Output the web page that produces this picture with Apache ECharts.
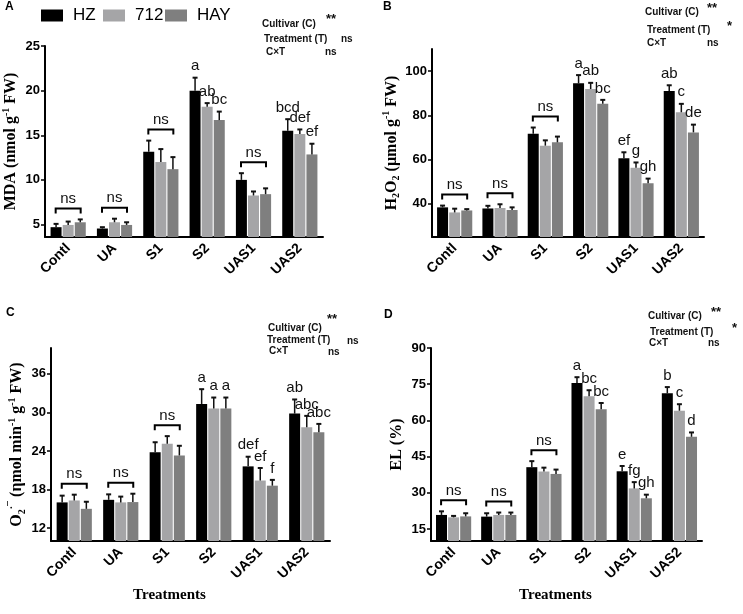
<!DOCTYPE html>
<html>
<head>
<meta charset="utf-8">
<script src="https://cdn.jsdelivr.net/npm/echarts@6/dist/echarts.min.js"></script>
<style>html,body{margin:0;padding:0;background:#fff}#c{width:743px;height:614px}</style>
</head>
<body>
<div id="c"></div>
<script>
// ---------- data ----------
const categories = ['Contl', 'UA', 'S1', 'S2', 'UAS1', 'UAS2'];
const cultivars = ['HZ', '712', 'HAY'];

// A: MDA
const mdaHZ  = [4.7, 4.55, 13.15, 20.0, 10.0, 15.5];
const mda712 = [4.95, 5.25, 12.0, 18.2, 8.25, 15.15];
const mdaHAY = [5.25, 4.95, 11.2, 16.7, 8.4, 12.85];
const mdaErrHZ  = [0.37, 0.15, 1.25, 1.45, 0.75, 1.3];
const mdaErr712 = [0.38, 0.4, 1.45, 0.4, 0.45, 0.5];
const mdaErrHAY = [0.32, 0.3, 1.35, 0.95, 0.65, 1.2];
const mdaLetHZ  = ['', '', '', 'a', '', 'bcd'];
const mdaLet712 = ['', '', '', 'ab', '', 'def'];
const mdaLetHAY = ['', '', '', 'bc', '', 'ef'];
const mdaNs = [1, 1, 1, 0, 1, 0];
const mdaTicks = [5, 10, 15, 20, 25];
const mdaStats = ['**', 'ns', 'ns'];

// B: H2O2
const h2o2HZ  = [38.4, 37.9, 71.7, 94.5, 60.6, 91.0];
const h2o2712 = [36.1, 38.1, 66.3, 91.9, 56.3, 81.4];
const h2o2HAY = [37.0, 37.2, 67.8, 85.2, 49.3, 72.3];
const h2o2ErrHZ  = [0.8, 1.2, 2.8, 3.7, 2.7, 2.6];
const h2o2Err712 = [1.7, 1.7, 2.4, 2.8, 2.4, 3.8];
const h2o2ErrHAY = [0.6, 1.2, 2.6, 1.8, 2.1, 3.5];
const h2o2LetHZ  = ['', '', '', 'a', 'ef', 'ab'];
const h2o2Let712 = ['', '', '', 'ab', 'g', 'c'];
const h2o2LetHAY = ['', '', '', 'bc', 'gh', 'de'];
const h2o2Ns = [1, 1, 1, 0, 0, 0];
const h2o2Ticks = [40, 60, 80, 100];
const h2o2Stats = ['**', '*', 'ns'];

// C: O2.-
const o2HZ  = [16.0, 16.4, 23.8, 31.3, 21.6, 29.8];
const o2712 = [16.3, 16.0, 25.1, 30.6, 19.4, 27.7];
const o2HAY = [15.0, 16.05, 23.3, 30.6, 18.6, 26.9];
const o2ErrHZ  = [1.05, 0.85, 1.55, 2.3, 1.5, 2.2];
const o2Err712 = [0.9, 0.9, 1.2, 1.7, 1.95, 1.75];
const o2ErrHAY = [1.1, 1.3, 1.5, 1.7, 0.9, 1.3];
const o2LetHZ  = ['', '', '', 'a', 'def', 'ab'];
const o2Let712 = ['', '', '', 'a', 'ef', 'abc'];
const o2LetHAY = ['', '', '', 'a', 'f', 'abc'];
const o2Ns = [1, 1, 1, 0, 0, 0];
const o2Ticks = [12, 18, 24, 30, 36];
const o2Stats = ['**', 'ns', 'ns'];

// D: EL
const elHZ  = [20.8, 20.1, 40.6, 75.5, 38.9, 71.2];
const el712 = [19.8, 20.8, 38.8, 70.0, 31.8, 64.0];
const elHAY = [20.2, 20.8, 37.8, 64.6, 27.7, 53.2];
const elErrHZ  = [1.5, 1.4, 2.5, 2.4, 2.2, 2.6];
const elErr712 = [0.6, 1.0, 1.6, 2.5, 2.6, 2.7];
const elErrHAY = [1.3, 1.0, 1.8, 2.6, 1.5, 1.8];
const elLetHZ  = ['', '', '', 'a', 'e', 'b'];
const elLet712 = ['', '', '', 'bc', 'fg', 'c'];
const elLetHAY = ['', '', '', 'bc', 'gh', 'd'];
const elNs = [1, 1, 1, 0, 0, 0];
const elTicks = [15, 30, 45, 60, 75, 90];
const elStats = ['**', '*', 'ns'];

// ---------- styling / layout ----------
const colors = ['#000000', '#a5a5a7', '#7f7f7f'];
const BAR_W = 11, BAR_STEP = 12.1;
const SANS = 'Arial, "Liberation Sans", Helvetica, sans-serif';
const SERIF = '"Times New Roman", "Liberation Serif", serif';

const panels = [
  { vals: [mdaHZ, mda712, mdaHAY], errs: [mdaErrHZ, mdaErr712, mdaErrHAY], lets: [mdaLetHZ, mdaLet712, mdaLetHAY], ns: mdaNs, ticks: mdaTicks,
    min: 3.6, max: 25, grid: { left: 44, top: 46, width: 279, height: 191 },
    name: '{b|MDA (nmol g}{sup|-1}{b| FW)}', xname: false },
  { vals: [h2o2HZ, h2o2712, h2o2HAY], errs: [h2o2ErrHZ, h2o2Err712, h2o2ErrHAY], lets: [h2o2LetHZ, h2o2Let712, h2o2LetHAY], ns: h2o2Ns, ticks: h2o2Ticks,
    min: 25, max: 110, grid: { left: 432, top: 49, width: 272, height: 188 },
    name: '{b|H}{sub|2}{b|O}{sub|2}{b| (µmol g}{sup|-1}{b| FW)}', xname: false },
  { vals: [o2HZ, o2712, o2HAY], errs: [o2ErrHZ, o2Err712, o2ErrHAY], lets: [o2LetHZ, o2Let712, o2LetHAY], ns: o2Ns, ticks: o2Ticks,
    min: 10, max: 40, grid: { left: 51, top: 348, width: 279, height: 193 },
    name: '{b|O}{sub|2}{sup|·¯}{b| (ηmol min}{sup|-1}{b| g}{sup|-1}{b| FW)}', xname: true, xshift: 42 },
  { vals: [elHZ, el712, elHAY], errs: [elErrHZ, elErr712, elErrHAY], lets: [elLetHZ, elLet712, elLetHAY], ns: elNs, ticks: elTicks,
    min: 10, max: 90, grid: { left: 431, top: 348, width: 271, height: 193 },
    name: '{b|EL (%)}', xname: true, xshift: 22 }
];

const grids = [], xAxes = [], yAxes = [], series = [];

panels.forEach((p, gi) => {
  grids.push(Object.assign({ containLabel: false }, p.grid));
  xAxes.push({
    type: 'category', gridIndex: gi, data: categories,
    axisLine: { lineStyle: { color: '#000', width: 2 } },
    axisTick: { alignWithLabel: true, length: 5, lineStyle: { color: '#000', width: 1.5 } },
    axisLabel: { rotate: 45, color: '#000', fontFamily: SANS, fontWeight: 'bold', fontSize: 14, margin: 9, interval: 0 },
    name: p.xname ? 'Treatments' : '', nameLocation: 'middle', nameGap: 47,
    nameTextStyle: { fontFamily: SERIF, fontWeight: 'bold', fontSize: 15, color: '#000', padding: [0, p.xshift || 0, 0, 0] }
  });
  yAxes.push({
    type: 'value', gridIndex: gi, min: p.min, max: p.max,
    axisLine: { show: true, lineStyle: { color: '#000', width: 2 } },
    axisTick: { show: true, length: 4, customValues: p.ticks, lineStyle: { color: '#000', width: 1.5 } },
    axisLabel: { customValues: p.ticks, color: '#000', fontFamily: SANS, fontWeight: 'bold', fontSize: 13, margin: 5 },
    splitLine: { show: false },
    name: p.name, nameLocation: 'middle', nameGap: 24,
    nameTextStyle: {
      color: '#000',
      rich: {
        b: { fontFamily: SERIF, fontWeight: 'bold', fontSize: 16, lineHeight: 20, color: '#000' },
        sup: { fontFamily: SERIF, fontWeight: 'bold', fontSize: 10, lineHeight: 10, verticalAlign: 'top', color: '#000' },
        sub: { fontFamily: SERIF, fontWeight: 'bold', fontSize: 10, lineHeight: 10, verticalAlign: 'bottom', color: '#000' }
      }
    }
  });

  cultivars.forEach((c, k) => {
    series.push({
      type: 'bar', name: c, xAxisIndex: gi, yAxisIndex: gi,
      data: p.vals[k], barWidth: BAR_W, barGap: '10%',
      itemStyle: { color: colors[k] }, silent: true
    });
  });

  // error bars + letters
  const errItems = [];
  const errLetters = [];
  categories.forEach((_, i) => {
    for (let k = 0; k < 3; k++) {
      errItems.push([i, k, p.vals[k][i], p.errs[k][i]]);
      errLetters.push(p.lets[k][i]);
    }
  });
  series.push({
    type: 'custom', xAxisIndex: gi, yAxisIndex: gi, z: 5, silent: true,
    encode: { x: 0, y: 2 },
    data: errItems,
    renderItem: (params, api) => {
      const cat = api.value(0), k = api.value(1), v = api.value(2), e = api.value(3);
      const b = api.coord([cat, v]);
      const t = api.coord([cat, v + e]);
      const x = b[0] + (k - 1) * BAR_STEP;
      const children = [
        { type: 'line', shape: { x1: x, y1: b[1], x2: x, y2: t[1] }, style: { stroke: '#111', lineWidth: 1.5 } },
        { type: 'line', shape: { x1: x - 2.5, y1: t[1], x2: x + 2.5, y2: t[1] }, style: { stroke: '#111', lineWidth: 2 } }
      ];
      const lt = errLetters[params.dataIndex];
      if (lt) {
        children.push({ type: 'text', x: x, y: t[1] - 4,
          style: { text: lt, fill: '#111', font: '15px ' + SANS, textAlign: 'center', textVerticalAlign: 'bottom' } });
      }
      return { type: 'group', children };
    }
  });

  // "ns" brackets
  const nsItems = [];
  categories.forEach((_, i) => {
    if (p.ns[i]) {
      const top = Math.max(...[0, 1, 2].map(k => p.vals[k][i] + p.errs[k][i]));
      nsItems.push([i, top]);
    }
  });
  series.push({
    type: 'custom', xAxisIndex: gi, yAxisIndex: gi, z: 5, silent: true,
    encode: { x: 0, y: 1 },
    data: nsItems,
    renderItem: (params, api) => {
      const c = api.coord([api.value(0), api.value(1)]);
      const y = c[1] - 11, x0 = c[0] - 12.5, x1 = c[0] + 12.5;
      return { type: 'group', children: [
        { type: 'polyline', shape: { points: [[x0, y + 5], [x0, y], [x1, y], [x1, y + 5]] }, style: { stroke: '#000', lineWidth: 2, fill: null } },
        { type: 'text', x: c[0], y: y - 2, style: { text: 'ns', fill: '#111', font: '15px ' + SANS, textAlign: 'center', textVerticalAlign: 'bottom' } }
      ] };
    }
  });
});

// legends (one per cultivar for fixed spacing)
const legendLeft = [41, 103, 165];
const legends = cultivars.map((c, k) => ({
  data: [c], left: legendLeft[k], top: 7, padding: 0,
  itemWidth: 22, itemHeight: 12, icon: 'rect', selectedMode: false,
  textStyle: { fontFamily: '"Liberation Sans Narrow", "Arial Narrow", Arial, sans-serif', fontSize: 17, color: '#000', padding: [0, 0, 0, 5] }
}));

// graphic text: panel letters and statistics
const statBlocks = [
  { stats: mdaStats, rows: [[262, 24], [264, 39], [266, 52]], marks: [[326, 19, 13], [341, 39, 10], [325, 52, 10]] },
  { stats: h2o2Stats, rows: [[645, 12], [647, 30], [647, 43]], marks: [[707, 8, 13], [727, 26, 13], [707, 43, 10]] },
  { stats: o2Stats, rows: [[268, 328], [267, 340], [269, 351]], marks: [[327, 319, 13], [347, 341, 10], [328, 352, 10]] },
  { stats: elStats, rows: [[648, 316], [650, 332], [649, 343]], marks: [[711, 312, 13], [732, 328, 13], [708, 343, 10]] }
];
const statNames = ['Cultivar (C)', 'Treatment (T)', 'C×T'];
const graphics = [];
[['A', 5, 7], ['B', 383, 7], ['C', 6, 313], ['D', 384, 315]].forEach(([t, x, y]) => {
  graphics.push({ type: 'text', x: x, y: y, style: { text: t, fill: '#000', font: 'bold 12px ' + SANS, textVerticalAlign: 'middle' } });
});
statBlocks.forEach(sb => {
  statNames.forEach((n, r) => {
    graphics.push({ type: 'text', x: sb.rows[r][0], y: sb.rows[r][1],
      style: { text: n, fill: '#111', font: 'bold 10px ' + SANS, textVerticalAlign: 'middle' } });
    const m = sb.marks[r];
    graphics.push({ type: 'text', x: m[0], y: m[1],
      style: { text: sb.stats[r], fill: '#111', font: 'bold ' + m[2] + 'px ' + SANS, textVerticalAlign: 'middle' } });
  });
});

const chart = echarts.init(document.getElementById('c'), null, { renderer: 'canvas' });
chart.setOption({
  animation: false,
  backgroundColor: '#fff',
  legend: legends,
  grid: grids,
  xAxis: xAxes,
  yAxis: yAxes,
  series: series,
  graphic: graphics
});
</script>
</body>
</html>
